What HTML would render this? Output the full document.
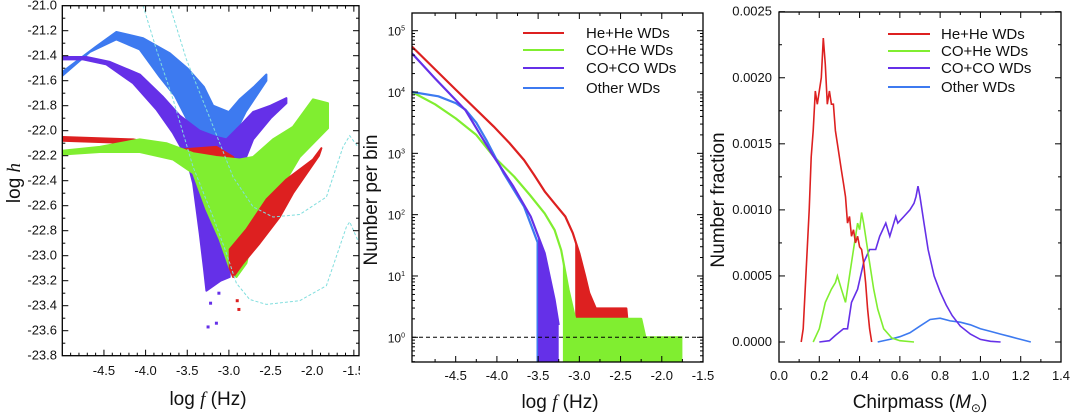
<!DOCTYPE html>
<html><head><meta charset="utf-8">
<style>
html,body{margin:0;padding:0;background:#fff;}
svg{display:block;font-family:"Liberation Sans",sans-serif;}
</style></head>
<body>
<svg id="fig" width="1070" height="418" viewBox="0 0 1070 418" xmlns="http://www.w3.org/2000/svg"></svg>
<script>
// ---------- Panel 1 data (log f, log h) region outlines ----------
const p1Other=[[-5,-21.53],[-4.6,-21.33],[-4.35,-21.21],[-4.03,-21.26],[-3.71,-21.38],[-3.5,-21.5],[-3.3,-21.65],[-3.19,-21.8],[-3.0,-21.85],[-2.87,-21.75],[-2.7,-21.65],[-2.55,-21.55],[-2.55,-21.6],[-2.8,-21.85],[-2.95,-22.05],[-3.03,-22.12],[-3.27,-22.1],[-3.4,-22.0],[-3.51,-21.9],[-3.65,-21.72],[-3.83,-21.57],[-4.07,-21.35],[-4.35,-21.27],[-4.67,-21.37],[-5,-21.56]];
const p1COCO=[[-5,-21.41],[-4.71,-21.41],[-4.43,-21.45],[-4.07,-21.55],[-3.79,-21.73],[-3.59,-21.88],[-3.35,-22.0],[-3.15,-22.05],[-3.03,-22.07],[-2.85,-21.95],[-2.71,-21.85],[-2.5,-21.8],[-2.31,-21.74],[-2.31,-21.78],[-2.5,-21.9],[-2.71,-22.07],[-2.87,-22.34],[-2.95,-22.7],[-2.99,-22.95],[-2.99,-23.17],[-3.1,-23.2],[-3.27,-23.28],[-3.3,-23.1],[-3.35,-22.82],[-3.43,-22.42],[-3.51,-22.21],[-3.67,-22.02],[-3.87,-21.83],[-4.15,-21.62],[-4.47,-21.47],[-4.75,-21.43],[-5,-21.43]];
const p1COCOout=[[-3.25,-23.57],[-3.15,-23.54],[-3.22,-23.38],[-3.12,-23.3]];
const p1HeHeRidge=[[-5,-22.05],[-4.15,-22.07],[-3.55,-22.15],[-3.15,-22.13],[-2.95,-22.21],[-2.87,-22.34],[-3.15,-22.26],[-3.55,-22.19],[-4.15,-22.1],[-5,-22.08]];
const p1HeHeBand=[[-2.99,-22.95],[-2.79,-22.79],[-2.55,-22.55],[-2.31,-22.39],[-1.99,-22.23],[-1.89,-22.14],[-1.92,-22.2],[-2.23,-22.5],[-2.39,-22.69],[-2.63,-22.9],[-2.83,-23.06],[-2.95,-23.17],[-2.99,-23.1]];
const p1HeHeOut=[[-2.9,-23.36],[-2.88,-23.43]];
const p1COHe=[[-5,-22.16],[-4.55,-22.13],[-4.07,-22.07],[-3.75,-22.1],[-3.43,-22.18],[-3.15,-22.21],[-2.87,-22.23],[-2.71,-22.21],[-2.47,-22.07],[-2.23,-21.97],[-1.99,-21.75],[-1.81,-21.78],[-1.81,-21.98],[-2.15,-22.21],[-2.31,-22.39],[-2.43,-22.55],[-2.55,-22.71],[-2.71,-22.82],[-2.79,-23.06],[-2.91,-23.17],[-2.99,-23.1],[-3.11,-22.87],[-3.27,-22.63],[-3.43,-22.34],[-3.67,-22.23],[-4.07,-22.17],[-4.55,-22.17],[-5,-22.19]];
const p1SensA=[[-4.03,-21.0],[-3.87,-21.35],[-3.67,-21.75],[-3.43,-22.29],[-3.19,-22.69],[-3.03,-22.98],[-2.91,-23.22],[-2.75,-23.35],[-2.55,-23.39],[-2.15,-23.36],[-1.83,-23.24],[-1.59,-22.77],[-1.55,-22.73],[-1.45,-22.88]];
const p1SensB=[[-3.71,-21.0],[-3.51,-21.43],[-3.27,-21.83],[-2.95,-22.37],[-2.71,-22.61],[-2.47,-22.69],[-2.15,-22.67],[-1.83,-22.53],[-1.63,-22.13],[-1.55,-22.04],[-1.45,-22.13]];
const p1XTicks=[-4.5,-4.0,-3.5,-3.0,-2.5,-2.0,-1.5];
const p1YTicks=[-21.0,-21.2,-21.4,-21.6,-21.8,-22.0,-22.2,-22.4,-22.6,-22.8,-23.0,-23.2,-23.4,-23.6,-23.8];

// ---------- Panel 2 data (log f, log10 N) ----------
const p2HeHe=[[-5.03,4.74],[-4.5,4.04],[-4.04,3.44],[-3.85,3.17],[-3.67,2.89],[-3.55,2.65],[-3.42,2.38],[-3.3,2.18],[-3.17,1.97],[-3.08,1.7],[-3.0,1.37],[-2.93,1.0],[-2.88,0.72],[-2.8,0.47],[-2.43,0.47],[-2.42,0.3]];
const p2COHe=[[-5.03,4.0],[-4.75,3.8],[-4.5,3.57],[-4.25,3.3],[-4.04,2.95],[-3.79,2.62],[-3.6,2.32],[-3.42,2.02],[-3.3,1.75],[-3.22,1.42],[-3.13,0.77],[-3.05,0.3],[-2.25,0.3],[-2.2,0],[-1.75,0]];
const p2COCO=[[-5.03,4.63],[-4.75,4.22],[-4.5,3.87],[-4.38,3.7],[-4.2,3.3],[-4.04,2.95],[-3.8,2.46],[-3.59,1.97],[-3.42,1.37],[-3.3,0.61],[-3.25,0.2]];
const p2Other=[[-5.03,4.0],[-4.71,3.93],[-4.5,3.82],[-4.38,3.71],[-4.25,3.5],[-4.13,3.22],[-3.92,2.68],[-3.67,2.13],[-3.47,1.42],[-3.36,0.61],[-3.3,0.1]];
const p2FillStart=[-3.05,-3.2,-3.5,-3.52];
const p2XTicks=[-4.5,-4.0,-3.5,-3.0,-2.5,-2.0,-1.5];
const p2YExp=[0,1,2,3,4,5];

// ---------- Panel 3 data (chirpmass, fraction) ----------
const p3HeHe=[[0.11,0],[0.12,0.0001],[0.14,0.0007],[0.15,0.001],[0.16,0.0014],[0.17,0.0016],[0.18,0.0019],[0.19,0.0018],[0.2,0.0019],[0.21,0.002],[0.22,0.0023],[0.23,0.0021],[0.24,0.0018],[0.25,0.0019],[0.26,0.0018],[0.27,0.0018],[0.28,0.0016],[0.29,0.0015],[0.3,0.0014],[0.31,0.0013],[0.32,0.0012],[0.33,0.0011],[0.34,0.0009],[0.35,0.00095],[0.36,0.0008],[0.37,0.00085],[0.38,0.00075],[0.39,0.0008],[0.4,0.00072],[0.41,0.0007],[0.42,0.0006],[0.43,0.00045],[0.44,0.00025],[0.45,0.0001],[0.46,0]];
const p3COHe=[[0.17,0],[0.2,0.0001],[0.23,0.0003],[0.26,0.0004],[0.28,0.00045],[0.29,0.0005],[0.31,0.0004],[0.33,0.0003],[0.35,0.0005],[0.37,0.0007],[0.39,0.0009],[0.4,0.00085],[0.41,0.00098],[0.42,0.0009],[0.43,0.0008],[0.45,0.0006],[0.47,0.0004],[0.49,0.00025],[0.52,0.0001],[0.56,0.00003],[0.6,0.00001],[0.67,0]];
const p3COCO=[[0.2,0],[0.25,0.00001],[0.28,0.00005],[0.32,0.0001],[0.34,0.0001],[0.36,0.0003],[0.39,0.0004],[0.42,0.0006],[0.45,0.0007],[0.48,0.0007],[0.5,0.0008],[0.53,0.0009],[0.55,0.0008],[0.56,0.00085],[0.58,0.00095],[0.59,0.0009],[0.62,0.00095],[0.65,0.001],[0.67,0.00105],[0.68,0.0011],[0.69,0.00118],[0.7,0.0011],[0.72,0.0009],[0.74,0.0007],[0.77,0.0005],[0.8,0.00038],[0.83,0.00028],[0.86,0.0002],[0.9,0.00012],[0.95,0.00006],[1.0,0.00002],[1.05,0.000005],[1.1,0]];
const p3Other=[[0.49,0],[0.55,0.00002],[0.6,0.00004],[0.65,0.00007],[0.7,0.00012],[0.75,0.00017],[0.8,0.00018],[0.85,0.00016],[0.9,0.00015],[0.95,0.00013],[1.0,0.0001],[1.05,0.00008],[1.1,0.00006],[1.15,0.00004],[1.2,0.00002],[1.25,0]];
const p3XTicks=[0.0,0.2,0.4,0.6,0.8,1.0,1.2,1.4];
const p3YTicks=[0.0,0.0005,0.001,0.0015,0.002,0.0025];

const legendLabels=["He+He WDs","CO+He WDs","CO+CO WDs","Other WDs"];
const C={red:"#dd2020",green:"#80ee30",purple:"#6530e8",blue:"#3d7af0",cyan:"#80dede"};

const NS="http://www.w3.org/2000/svg";
const svg=document.getElementById('fig');
function mk(tag,attrs,parent){const e=document.createElementNS(NS,tag);for(const k in attrs)e.setAttribute(k,attrs[k]);(parent||svg).appendChild(e);return e;}
function lin(d0,d1,r0,r1){return v=>r0+(v-d0)/(d1-d0)*(r1-r0);}
function pts(arr,sx,sy){return arr.map(p=>sx(p[0]).toFixed(1)+","+sy(p[1]).toFixed(1)).join(" ");}
function txt(s,x,y,size,anchor,parent){const t=mk('text',{x:x,y:y,'font-size':size,'text-anchor':anchor||'middle',fill:'#111'},parent);t.textContent=s;return t;}

// ===== Panel 1 =====
(function(){
  const L=62.3,R=359,T=5.7,B=355.7;
  const sx=lin(-5,-4,L,L+83.3), sy=lin(-21,-23.8,T,B);
  const g=mk('g',{});
  
  
  const clip=mk('clipPath',{id:'c1'},g);mk('rect',{x:L,y:T,width:R-L,height:B-T},clip);
  const pg=mk('g',{'clip-path':'url(#c1)'},g);
  const regions=[[p1Other,C.blue,'other-wds-scatter'],[p1COCO,C.purple,'co-co-wds-scatter'],[p1HeHeRidge,C.red,'he-he-wds-ridge'],[p1COHe,C.green,'co-he-wds-scatter'],[p1HeHeBand,C.red,'he-he-wds-band']];
  regions.forEach(r=>{
    const p=mk('polygon',{points:pts(r[0],sx,sy),fill:r[1],stroke:r[1],'stroke-width':2,'stroke-linejoin':'round'},pg);
    
    
  });
  [[p1COCOout,C.purple],[p1HeHeOut,C.red]].forEach(o=>o[0].forEach(d=>{
    const c=mk('rect',{x:sx(d[0])-1.5,y:sy(d[1])-1.5,width:3,height:3,fill:o[1]},pg);
    
    
  }));
  [p1SensA,p1SensB].forEach(s=>{
    const l=mk('polyline',{points:pts(s,sx,sy),fill:'none',stroke:C.cyan,'stroke-width':1,'stroke-dasharray':'3,2'},pg);
    
    
  });
  mk('rect',{x:L,y:T,width:R-L,height:B-T,fill:'none',stroke:'#000','stroke-width':1.3},g);
  for(let v=-4.9;v<=-1.45;v+=0.1){const x=sx(v),maj=Math.abs(v*2-Math.round(v*2))<0.01;const len=maj?6:3;
    mk('line',{x1:x,y1:B,x2:x,y2:B-len,stroke:'#000'},g);mk('line',{x1:x,y1:T,x2:x,y2:T+len,stroke:'#000'},g);}
  for(let v=-21.1;v>=-23.75;v-=0.1){const y=sy(v),maj=Math.abs(v*5-Math.round(v*5))<0.01;const len=maj?6:3;
    mk('line',{x1:L,y1:y,x2:L+len,y2:y,stroke:'#000'},g);mk('line',{x1:R,y1:y,x2:R-len,y2:y,stroke:'#000'},g);}
  p1XTicks.forEach(v=>{const t=txt(v.toFixed(1),sx(v),375,13,'middle',g);});
  p1YTicks.forEach(v=>{const t=txt(v.toFixed(1),57,sy(v)+4,13,'end',g);});
  const xt=mk('text',{x:208,y:405,'font-size':19,'text-anchor':'middle',fill:'#111'},g);
  xt.innerHTML='log <tspan font-style="italic" font-family="Liberation Serif">f</tspan> (Hz)';
  
  const yt=mk('text',{x:0,y:0,'font-size':19,'text-anchor':'middle',fill:'#111',transform:'translate(20,183) rotate(-90)'},g);
  yt.innerHTML='log <tspan font-style="italic" font-family="Liberation Serif">h</tspan>';
  
})();
mk('rect',{x:360,y:0,width:710,height:418,fill:'#fff'});

// ===== Panel 2 =====
(function(){
  const L=412,R=703,T=13,B=362;
  const sx=lin(-5.03,-1.5,L,R), sy=lin(0,5,337.3,30.7);
  const g=mk('g',{});
  
  
  const clip=mk('clipPath',{id:'c2'},g);mk('rect',{x:L,y:T,width:R-L,height:B-T},clip);
  const pg=mk('g',{'clip-path':'url(#c2)'},g);
  const series=[[p2HeHe,C.red,'he-he-wds-line',p2FillStart[0]],[p2COHe,C.green,'co-he-wds-line',p2FillStart[1]],[p2Other,C.blue,'other-wds-line',p2FillStart[3]],[p2COCO,C.purple,'co-co-wds-line',p2FillStart[2]]];
  series.forEach(s=>{
    const d=s[0];const fs=s[3];
    const tail=[];
    for(let i=0;i<d.length-1;i++){const a=d[i],b=d[i+1];if(b[0]<fs)continue;if(a[0]<fs){const t=(fs-a[0])/(b[0]-a[0]);tail.push([fs,a[1]+t*(b[1]-a[1])]);}else if(!tail.length)tail.push(a);tail.push(b);}
    const last=tail[tail.length-1],first=tail[0];
    const poly=tail.map(p=>[sx(p[0]),sy(p[1])]);poly.push([sx(last[0]),B]);poly.push([sx(first[0]),B]);
    const f=mk('polygon',{points:poly.map(p=>p[0].toFixed(1)+','+p[1].toFixed(1)).join(' '),fill:s[1]},pg);
    
    
    const l=mk('polyline',{points:pts(d,sx,sy),fill:'none',stroke:s[1],'stroke-width':2.2,'stroke-linejoin':'round'},pg);
    
    
  });
  const ref=mk('line',{x1:L,y1:sy(0),x2:R,y2:sy(0),stroke:'#000','stroke-dasharray':'4,3','stroke-width':1},pg);
  
  mk('rect',{x:L,y:T,width:R-L,height:B-T,fill:'none',stroke:'#000','stroke-width':1.3},g);
  for(let v=-4.75;v<=-1.5;v+=0.25){const x=sx(v),maj=Math.abs(v*2-Math.round(v*2))<0.01;const len=maj?6:3;
    mk('line',{x1:x,y1:B,x2:x,y2:B-len,stroke:'#000'},g);mk('line',{x1:x,y1:T,x2:x,y2:T+len,stroke:'#000'},g);}
  for(let e=-1;e<=5;e++){for(let m=1;m<10;m++){const v=e+Math.log10(m);const y=sy(v);if(y<T||y>B)continue;const len=m==1?6:3;
    mk('line',{x1:L,y1:y,x2:L+len,y2:y,stroke:'#000'},g);mk('line',{x1:R,y1:y,x2:R-len,y2:y,stroke:'#000'},g);}}
  p2XTicks.forEach(v=>{const t=txt(v.toFixed(1),sx(v),380,13,'middle',g);});
  p2YExp.forEach(e=>{const t=mk('text',{x:405,y:sy(e)+5,'font-size':12,'text-anchor':'end',fill:'#111'},g);
    t.innerHTML='10<tspan font-size="7" dy="-5">'+e+'</tspan>';
    });
  const xt=mk('text',{x:560,y:408,'font-size':19,'text-anchor':'middle',fill:'#111'},g);
  xt.innerHTML='log <tspan font-style="italic" font-family="Liberation Serif">f</tspan> (Hz)';
  
  const yt=txt('Number per bin',0,0,19,'middle',g);yt.setAttribute('transform','translate(377,200) rotate(-90)');
  
  const cols=[C.red,C.green,C.purple,C.blue],ly=[33,50,68,88];
  legendLabels.forEach((lab,i)=>{
    const lg=mk('g',{},g);
    
    
    mk('line',{x1:523,y1:ly[i],x2:564,y2:ly[i],stroke:cols[i],'stroke-width':2},lg);
    txt(lab,586,ly[i]+5,15,'start',lg);
  });
})();

// ===== Panel 3 =====
(function(){
  const L=779,R=1061,T=12,B=362;
  const sx=lin(0,1.4,L,R), sy=lin(0,0.0025,342,11.7);
  const g=mk('g',{});
  
  
  const series=[[p3Other,C.blue,'other-wds-line'],[p3COCO,C.purple,'co-co-wds-line'],[p3COHe,C.green,'co-he-wds-line'],[p3HeHe,C.red,'he-he-wds-line']];
  series.forEach(s=>{
    const l=mk('polyline',{points:pts(s[0],sx,sy),fill:'none',stroke:s[1],'stroke-width':1.6},g);
    
    
  });
  mk('rect',{x:L,y:T,width:R-L,height:B-T,fill:'none',stroke:'#000','stroke-width':1.3},g);
  for(let v=0.1;v<1.4;v+=0.1){const x=sx(v),maj=Math.round(v*10)%2==0;const len=maj?6:3;
    mk('line',{x1:x,y1:B,x2:x,y2:B-len,stroke:'#000'},g);mk('line',{x1:x,y1:T,x2:x,y2:T+len,stroke:'#000'},g);}
  for(let k=0;k<=10;k++){const v=k*0.00025;const y=sy(v);const len=k%2==0?6:3;
    mk('line',{x1:L,y1:y,x2:L+len,y2:y,stroke:'#000'},g);mk('line',{x1:R,y1:y,x2:R-len,y2:y,stroke:'#000'},g);}
  p3XTicks.forEach(v=>{const t=txt(v.toFixed(1),sx(v),380,13,'middle',g);});
  p3YTicks.forEach(v=>{const t=txt(v.toFixed(4),772,sy(v)+4,13,'end',g);});
  const xt=mk('text',{x:920,y:408,'font-size':19,'text-anchor':'middle',fill:'#111'},g);
  xt.innerHTML='Chirpmass (<tspan font-style="italic">M</tspan><tspan font-size="12" dy="4">⊙</tspan><tspan dy="-4">)</tspan>';
  
  const yt=txt('Number fraction',0,0,19,'middle',g);yt.setAttribute('transform','translate(724,200) rotate(-90)');
  
  const cols=[C.red,C.green,C.purple,C.blue],ly=[34,51,68,87];
  legendLabels.forEach((lab,i)=>{
    const lg=mk('g',{},g);
    
    
    mk('line',{x1:888,y1:ly[i],x2:930,y2:ly[i],stroke:cols[i],'stroke-width':2},lg);
    txt(lab,941,ly[i]+5,15,'start',lg);
  });
})();
</script>
</body></html>
